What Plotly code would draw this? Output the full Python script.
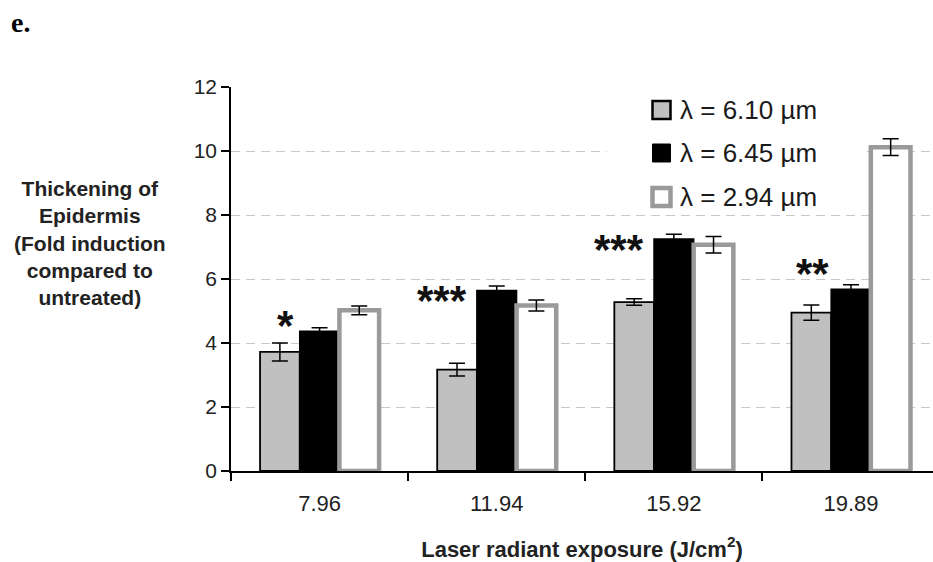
import plotly.graph_objects as go

# ---- data ----
categories = ["7.96", "11.94", "15.92", "19.89"]
series_names = ["λ = 6.10 µm", "λ = 6.45 µm", "λ = 2.94 µm"]
vals_610 = [3.72, 3.17, 5.28, 4.95]
err_610 = [0.28, 0.20, 0.10, 0.24]
vals_645 = [4.37, 5.64, 7.25, 5.68]
err_645 = [0.11, 0.14, 0.15, 0.14]
vals_294 = [5.02, 5.17, 7.07, 10.12]
err_294 = [0.14, 0.17, 0.26, 0.26]
significance = ["*", "***", "***", "**"]
sig_offsets = [-0.19, -0.31, -0.31, -0.22]
sig_levels = [4.83, 5.60, 7.20, 6.44]
y_ticks = [0, 2, 4, 6, 8, 10, 12]

W, H = 933, 562
ML, MR, MT, MB = 231, 0, 87, 91
PW, PH = W - ML - MR, H - MT - MB


def px_x(px):
    return (px - ML) / PW


def px_y(py):
    return (H - MB - py) / PH


fills = ["#c0c0c0", "#000000", "#ffffff"]
lines = ["#000000", "#000000", "#9a9a9a"]
lwidths = [1.8, 1.5, 4.5]
values = [vals_610, vals_645, vals_294]
errors = [err_610, err_645, err_294]

fig = go.Figure()
for i in range(3):
    fig.add_trace(go.Bar(
        x=categories, y=values[i], name=series_names[i],
        marker=dict(color=fills[i], line=dict(color=lines[i], width=lwidths[i])),
        error_y=dict(type="data", array=errors[i], color="#000000",
                     thickness=1.5, width=8),
        showlegend=False,
    ))

font_main = "Liberation Sans, Arial, sans-serif"

annotations = []
for k in range(len(categories)):
    annotations.append(dict(
        x=k + sig_offsets[k], y=sig_levels[k], xref="x", yref="y",
        text="<b>" + significance[k] + "</b>", showarrow=False, yshift=-9,
        font=dict(family=font_main, size=42, color="#111111"),
    ))

# y-axis title (multi-line, left)
annotations.append(dict(
    x=px_x(90), y=px_y(243), xref="paper", yref="paper",
    xanchor="center", yanchor="middle", showarrow=False,
    text="<b>Thickening of<br>Epidermis<br>(Fold induction<br>compared to<br>untreated)</b>",
    font=dict(family=font_main, size=21, color="#222222"),
    align="center",
))
# panel label
annotations.append(dict(
    x=px_x(9), y=px_y(23), xref="paper", yref="paper",
    xanchor="left", yanchor="middle", showarrow=False,
    text="<b>e.</b>",
    font=dict(family="Liberation Serif, Times New Roman, serif", size=28, color="#000000"),
))

shapes = []
# legend background covering the gridlines
shapes.append(dict(type="rect", xref="paper", yref="paper",
                   x0=px_x(607), x1=px_x(867), y0=px_y(213), y1=px_y(78),
                   fillcolor="#ffffff", line=dict(width=0), layer="above"))
row_y = [110, 153, 197]
for i in range(3):
    cy = row_y[i]
    shapes.append(dict(type="rect", xref="paper", yref="paper",
                       x0=px_x(652.5), x1=px_x(670.5), y0=px_y(cy + 9), y1=px_y(cy - 9),
                       fillcolor=fills[i],
                       line=dict(color=lines[i], width=[2.5, 1, 4.5][i]),
                       layer="above"))
    annotations.append(dict(
        x=px_x(678), y=px_y(cy), xref="paper", yref="paper",
        xanchor="left", yanchor="middle", showarrow=False,
        text=series_names[i],
        font=dict(family=font_main, size=26, color="#1a1a1a"),
    ))

fig.update_layout(
    width=W, height=H,
    margin=dict(l=ML, r=MR, t=MT, b=MB, pad=0),
    paper_bgcolor="#ffffff", plot_bgcolor="#ffffff",
    barmode="group", bargap=0.328, bargroupgap=0,
    annotations=annotations, shapes=shapes,
    showlegend=False,
    font=dict(family=font_main),
)
fig.update_xaxes(
    type="category", range=[-0.5, 3.463],
    showline=True, linecolor="#000000", linewidth=1.5,
    ticks="outside", tickson="boundaries", ticklen=8, tickwidth=1.5, tickcolor="#000000",
    tickfont=dict(family=font_main, size=22, color="#222222"),
    ticklabelstandoff=12,
    showgrid=False, zeroline=False,
    title=dict(text="<b>Laser radiant exposure (J/cm<sup>2</sup>)</b>",
               font=dict(family=font_main, size=22, color="#222222"), standoff=26),
)
fig.update_yaxes(
    range=[0, 12], tickvals=y_ticks,
    showline=True, linecolor="#000000", linewidth=1.5,
    ticks="outside", ticklen=8, tickwidth=1.5, tickcolor="#000000",
    tickfont=dict(family=font_main, size=21, color="#222222"),
    showgrid=True, gridcolor="#c8c8c8", gridwidth=1.3, griddash="9px,6px",
    zeroline=False,
)

fig.write_html("out.html")
